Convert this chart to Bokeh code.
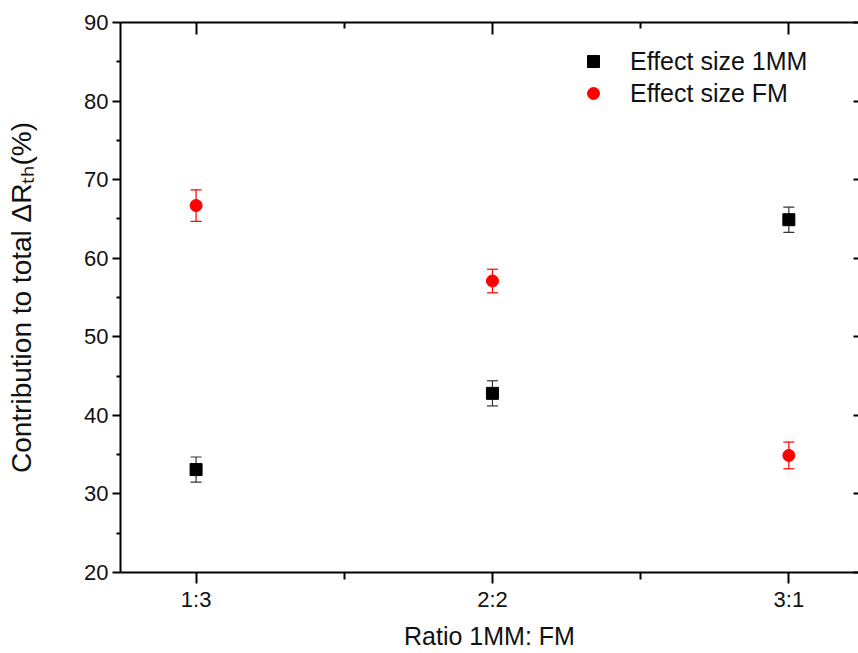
from bokeh.plotting import figure
from bokeh.models import (ColumnDataSource, Whisker, TeeHead, FixedTicker, LinearAxis,
                          Range1d, Legend, LegendItem)
from bokeh.embed import file_html
from bokeh.resources import INLINE

# ---- data ----
categories = ["1:3", "2:2", "3:1"]
mm_values = [33.1, 42.8, 64.9]
mm_errors = [1.6, 1.6, 1.6]
fm_values = [66.7, 57.1, 34.9]
fm_errors = [2.0, 1.5, 1.7]
y_ticks = [20, 30, 40, 50, 60, 70, 80, 90]
y_minor_ticks = [25, 35, 45, 55, 65, 75, 85]

x_pos = list(range(1, len(categories) + 1))
x_minor = [p + 0.5 for p in x_pos[:-1]]

mm_src = ColumnDataSource(dict(
    x=x_pos, y=mm_values,
    lo=[v - e for v, e in zip(mm_values, mm_errors)],
    hi=[v + e for v, e in zip(mm_values, mm_errors)]))
fm_src = ColumnDataSource(dict(
    x=x_pos, y=fm_values,
    lo=[v - e for v, e in zip(fm_values, fm_errors)],
    hi=[v + e for v, e in zip(fm_values, fm_errors)]))

FONT = "Liberation Sans"

p = figure(width=858, height=653, output_backend="svg", toolbar_location=None,
           x_range=Range1d(0.745, 3.235), y_range=Range1d(20, 90),
           min_border_left=120, min_border_right=0, min_border_top=22,
           min_border_bottom=81, x_axis_location=None, y_axis_location=None)
p.outline_line_color = None
p.xgrid.visible = False
p.ygrid.visible = False
p.background_fill_color = "white"
p.border_fill_color = "white"

def style_axis(ax):
    ax.axis_line_width = 2
    ax.axis_line_color = "black"
    ax.major_tick_line_width = 2
    ax.minor_tick_line_width = 2
    ax.major_tick_line_color = "black"
    ax.minor_tick_line_color = "black"
    ax.major_label_text_font = FONT
    ax.axis_label_text_font = FONT
    ax.axis_label_text_font_style = "normal"
    ax.major_label_text_color = "#111111"
    ax.axis_label_text_color = "#111111"

def hide_labels(ax, ticks):
    ax.major_label_overrides = {t: "" for t in ticks}
    ax.major_label_text_font_size = "1px"
    ax.major_label_standoff = 0

# bottom axis
xb = LinearAxis(ticker=FixedTicker(ticks=x_pos, minor_ticks=x_minor))
style_axis(xb)
xb.major_label_overrides = {x: c for x, c in zip(x_pos, categories)}
xb.major_label_text_font_size = "22px"
xb.major_tick_out = 11
xb.major_tick_in = 0
xb.minor_tick_out = 7
xb.minor_tick_in = 0
xb.major_label_standoff = 3
xb.axis_label = "Ratio 1MM: FM"
xb.axis_label_text_font_size = "25px"
xb.axis_label_standoff = 7
p.add_layout(xb, "below")

# top axis (ticks inward only)
xt = LinearAxis(ticker=FixedTicker(ticks=x_pos, minor_ticks=x_minor))
style_axis(xt)
hide_labels(xt, x_pos)
xt.major_tick_in = 12
xt.major_tick_out = 0
xt.minor_tick_in = 6
xt.minor_tick_out = 0
p.add_layout(xt, "above")

# left axis
yl = LinearAxis(ticker=FixedTicker(ticks=y_ticks, minor_ticks=y_minor_ticks))
style_axis(yl)
yl.major_label_text_font_size = "22px"
yl.major_tick_out = 8
yl.major_tick_in = 0
yl.minor_tick_out = 4
yl.minor_tick_in = 0
yl.major_label_standoff = 4
yl.axis_label = "Contribution to total \u0394R\u209c\u2095(%)"
yl.axis_label_text_font_size = "28px"
yl.axis_label_standoff = 44
p.add_layout(yl, "left")

# right axis (ticks inward only, line beyond the window edge)
yr = LinearAxis(ticker=FixedTicker(ticks=y_ticks, minor_ticks=[]))
style_axis(yr)
yr.axis_line_color = None
hide_labels(yr, y_ticks)
yr.major_tick_in = 5
yr.major_tick_out = 0
yr.minor_tick_in = 0
yr.minor_tick_out = 0
p.add_layout(yr, "right")

# error bars
p.add_layout(Whisker(source=mm_src, base="x", lower="lo", upper="hi",
                     line_color="#333333", line_width=1.2,
                     lower_head=TeeHead(size=11, line_color="#333333", line_width=1.2),
                     upper_head=TeeHead(size=11, line_color="#333333", line_width=1.2)))
p.add_layout(Whisker(source=fm_src, base="x", lower="lo", upper="hi",
                     line_color="red", line_width=1.2,
                     lower_head=TeeHead(size=11, line_color="red", line_width=1.2),
                     upper_head=TeeHead(size=11, line_color="red", line_width=1.2)))

r_mm = p.scatter("x", "y", source=mm_src, marker="square", size=12,
                 fill_color="black", line_color="black")
r_fm = p.scatter("x", "y", source=fm_src, marker="circle", size=12,
                 fill_color="red", line_color="red")

legend = Legend(items=[LegendItem(label="Effect size 1MM", renderers=[r_mm]),
                       LegendItem(label="Effect size FM", renderers=[r_fm])],
                location=(458, 463))
legend.border_line_color = None
legend.background_fill_alpha = 0
legend.padding = 0
legend.margin = 0
legend.spacing = 0
legend.glyph_width = 30
legend.glyph_height = 32
legend.label_height = 32
legend.label_standoff = 22
legend.label_text_font = FONT
legend.label_text_font_size = "25px"
legend.label_text_color = "#111111"
p.add_layout(legend, "center")

open("out.html", "w").write(file_html(p, INLINE))
